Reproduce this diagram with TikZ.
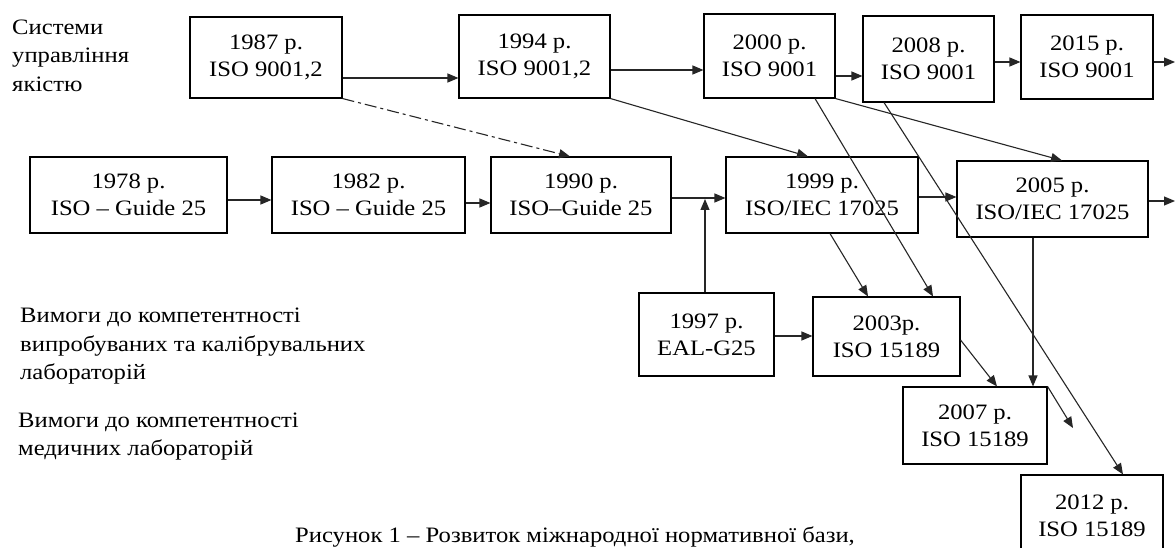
\documentclass[tikz,border=0pt]{standalone}
\usepackage{fontspec}
\setmainfont{Liberation Serif}[FakeStretch=1.12]
\usetikzlibrary{arrows.meta}
\begin{document}
\begin{tikzpicture}[x=1pt,y=-1pt,
  box/.style={draw=black, line width=1.1pt, fill=white, align=center, inner sep=0pt, font=\fontsize{22}{27}\selectfont},
  lbl/.style={anchor=base west, inner sep=0pt, font=\fontsize{22}{26}\selectfont},
  arr/.style={draw=black!85, line width=1.1pt, -{Triangle[length=11pt,width=9pt]}}]
\path[use as bounding box, clip] (0,0) rectangle (1175,548);
\fill[white] (0,0) rectangle (1175,548);

% top row
\node[box, minimum width=152pt, minimum height=81pt] (b1987) at (266,57.5) {1987 р.\\ISO 9001,2};
\node[box, minimum width=151pt, minimum height=83pt] (b1994) at (534.5,56.5) {1994 р.\\ISO 9001,2};
\node[box, minimum width=131pt, minimum height=84pt] (b2000) at (769.5,56) {2000 р.\\ISO 9001};
\node[box, minimum width=131pt, minimum height=86pt] (b2008) at (928.5,59) {2008 р.\\ISO 9001};
\node[box, minimum width=132pt, minimum height=84pt] (b2015) at (1087,57) {2015 р.\\ISO 9001};
% middle row
\node[box, minimum width=197pt, minimum height=76pt] (b1978) at (128.5,195) {1978 р.\\ISO -- Guide 25};
\node[box, minimum width=193pt, minimum height=76pt] (b1982) at (368.5,195) {1982 р.\\ISO -- Guide 25};
\node[box, minimum width=180pt, minimum height=76pt] (b1990) at (581,195) {1990 р.\\ISO--Guide 25};
\node[box, minimum width=192pt, minimum height=76pt] (b1999) at (822,195) {1999 р.\\ISO/IEC 17025};
\node[box, minimum width=191pt, minimum height=76pt] (b2005) at (1052.5,199) {2005 р.\\ISO/IEC 17025};
% lower
\node[box, minimum width=135pt, minimum height=83pt] (b1997) at (706.5,334.5) {1997 р.\\EAL-G25};
\node[box, minimum width=147pt, minimum height=79pt] (b2003) at (886.5,336.5) {2003р.\\ISO 15189};
\node[box, minimum width=144pt, minimum height=77pt] (b2007) at (975,425.5) {2007 р.\\ISO 15189};
\node[box, minimum width=142pt, minimum height=82pt] (b2012) at (1092,516) {2012 р.\\ISO 15189};

% free ends
\coordinate (out1) at (1175,62);
\coordinate (out2) at (1175,201);
\coordinate (join) at (705,199);
\coordinate (shortend) at (1073,428);

% horizontal arrows
\draw[arr] (b1987.east |- 0,78) -- (b1994.west |- 0,78);
\draw[arr] (b1994.east |- 0,70) -- (b2000.west |- 0,70);
\draw[arr] (b2000.east |- 0,76) -- (b2008.west |- 0,76);
\draw[arr] (b2008.east |- 0,62) -- (b2015.west |- 0,62);
\draw[arr] (b2015.east |- 0,62) -- (out1);
\draw[arr] (b1978.east |- 0,200) -- (b1982.west |- 0,200);
\draw[arr] (b1982.east |- 0,203) -- (b1990.west |- 0,203);
\draw[arr] (b1990.east |- 0,198) -- (b1999.west |- 0,198);
\draw[arr] (b1999.east |- 0,197) -- (b2005.west |- 0,197);
\draw[arr] (b2005.east |- 0,201) -- (out2);
\draw[arr] (b1997.north -| join) -- (join);
\draw[arr] (b1997.east |- 0,336) -- (b2003.west |- 0,336);
% diagonal arrows
\draw[arr] (b2003.east |- 0,340) -- (b2007.north -| 997,0);
\draw[arr] (b2005.south -| 1033,0) -- (b2007.north -| 1033,0);
\draw[arr] (b2007.north east) -- (shortend);
\draw[arr] (b1994.south east) -- (b1999.north -| 808,0);
\draw[arr] (b2000.south east) -- (b2005.north -| 1062,0);
\draw[arr] (b2000.south -| 815,0) -- (b2003.north -| 933,0);
\draw[arr] (b2008.south -| 884,0) -- (b2012.north -| 1123,0);
\draw[arr] (b1999.south -| 830,0) -- (b2003.north -| 868,0);
\draw[arr, dash pattern=on 12pt off 4pt on 3pt off 4pt] (b1987.south east) -- (b1990.north -| 570,0);

% labels
\node[lbl] (s1) at (12,35) {Системи};
\node[lbl] (s2) at (12,63) {управління};
\node[lbl] (s3) at (12,92) {якістю};
\node[lbl] (v1) at (20,322) {Вимоги до компетентності};
\node[lbl] (v2) at (20,351) {випробуваних та калібрувальних};
\node[lbl] (v3) at (20,379) {лабораторій};
\node[lbl] (m1) at (18,427) {Вимоги до компетентності};
\node[lbl] (m2) at (18,455) {медичних лабораторій};
\node[lbl] (cap) at (295,542) {Рисунок 1 -- Розвиток міжнародної нормативної бази,};
\end{tikzpicture}
\end{document}
